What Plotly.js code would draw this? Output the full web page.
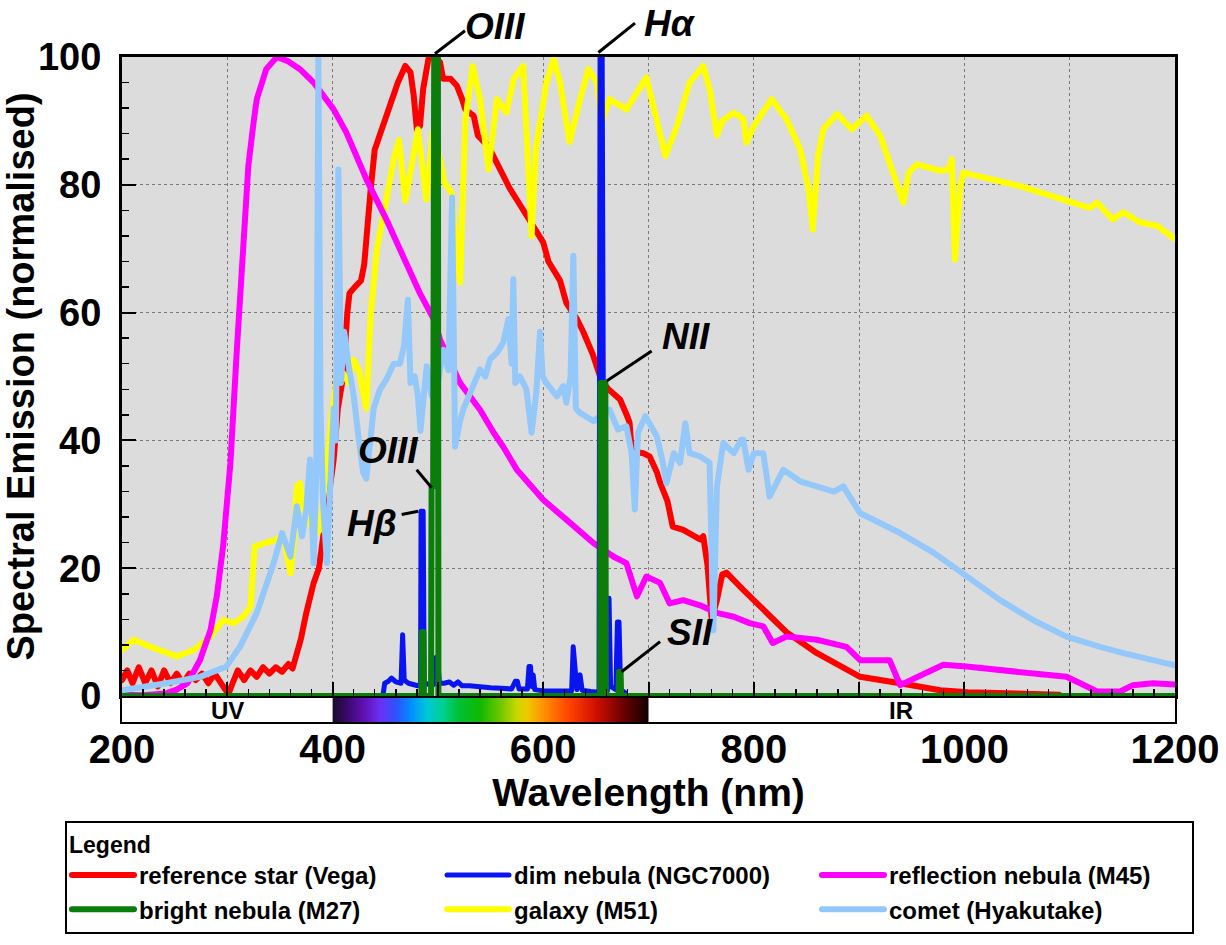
<!DOCTYPE html>
<html><head><meta charset="utf-8">
<script src="https://cdn.plot.ly/plotly-3.0.1.min.js"></script>
<style>
html,body{margin:0;padding:0;background:#fff}
#chart{width:1226px;height:945px}
path.js-line{stroke-linejoin:round;stroke-linecap:round}
</style>
</head><body><div id="chart"></div>
<script>
// ---------- data (wavelength nm, normalised emission) ----------
const vega = [[200,2.5],[205,4],[210,2],[216,4.5],[222,2],[228,4],[234,1.5],[240,4],[246,2],[252,3.5],[258,2],[264,3.5],[270,2.5],[276,3.5],[282,2],[288,3.5],[294,2],[298,1],[301,0.3],[305,2],[310,4],[316,2.5],[322,4],[328,3],[334,4.5],[340,3.5],[346,4.5],[352,3.8],[358,5],[362,4.3],[366,6.5],[370,9],[375,13],[382,17.7],[387,20],[392,26],[397,32],[401,37],[405,45],[410,50],[414,60],[416,63],[421,64],[427,65],[430,67.5],[433,74],[436,79],[440,85.5],[451,90.8],[462,96],[469,98.6],[474,97.6],[477,94],[480,88.7],[483,89.2],[486,95],[491,99.7],[496,100],[502,99.2],[505,96.6],[512,96.6],[518,95.5],[523,93.4],[526,91.8],[534,90.8],[538,87.7],[548,86],[556,83.5],[568,79.5],[585,75],[600,71],[605,68],[616,65],[622,61.5],[632,59],[638,57],[647,53.5],[654,50],[657,49],[662,48],[670,47],[673,46.4],[680,43.7],[682,42.8],[684,38.6],[688,38.2],[695,38],[701,37.5],[708,35],[711,33.4],[718,30.5],[720,29],[723,26.5],[733,26],[742,25],[749,24.5],[752,25],[756,20.5],[760,12],[765,15],[770,19],[774,19.3],[790,16.6],[812,13],[831,10],[860,6.7],[882,4.6],[901,3],[939,2],[977,0.9],[1003,0.6],[1050,0.4],[1090,0.2]];

const m27 = [[200,0],[484.3,0],[484.8,10],[486.2,10],[486.7,0],[493.5,0],[494,32.8],[495.5,32.8],[496.5,100],[500,100],[500.5,0],[654,0],[654.5,49],[659,49],[659.5,0],[671.5,0],[672,3.8],[673.5,3.8],[674,0],[1200,0]];

const ngc7000 = [[448,0.3],[449.5,2],[453,2.3],[456,2.8],[460,2.2],[465,2],[466.5,9.6],[468,2.5],[472,2],[477,1.7],[481,1.6],[483.5,1.8],[484,28.9],[486,28.9],[487,2],[492,1.8],[496,1.8],[497.5,6],[499.5,6],[501.5,2],[506,2],[511,2.2],[515,1.7],[519,2.2],[523,1.6],[530,1.6],[540,1.4],[550,1.3],[560,1.2],[570,1.1],[573.5,2.3],[575.5,2.3],[577,1.1],[585,1.1],[586.5,4.6],[588,4.6],[589,1.5],[590.5,3.3],[592,1],[600,0.8],[610,0.8],[620,0.7],[627,0.8],[628.5,7.7],[630,5],[632,1],[635,3.3],[637,0.9],[645,0.7],[653,0.6],[654,100],[656,100],[658,0.8],[661,0.8],[661.5,15.3],[662.5,15.3],[664,1.5],[669,1],[670.5,11.6],[672,11.6],[673.5,1],[678,0.5]];

const m51 = [[200,7.2],[211,8.8],[227,7.7],[240,6.8],[252,6.2],[268,7.2],[284,9.3],[296,11.9],[306,11.4],[315,12.4],[322,14],[326,23.4],[337,23.9],[347,24.5],[353,25],[357,22],[360,19.2],[363,23.9],[366,32.8],[369,33.3],[372,29.2],[380,26.5],[385,25.5],[388,26],[394,36],[400,45],[405,51],[410,50.5],[415,49],[420,52.6],[425,51],[432,45],[436,59.4],[442,69.9],[451,77.7],[458,84],[463,87],[469,77.5],[475,83],[481,88.7],[489,77.7],[495,88.2],[502,84],[506,80.4],[513,78.8],[521,64.7],[526,90],[533,98.6],[540,93.4],[548,82.4],[556,93.4],[565,91.3],[572,96.6],[581,98.6],[589,72],[593,85.6],[603,96],[610,99.7],[616,96],[625,86.7],[635,93.4],[643,98.1],[651,96],[655.5,89.8],[663,93.4],[679,91.8],[698,96.8],[716,84.5],[727,89.2],[739,96],[752,98.6],[758,95],[765,87.7],[770,90],[781,91.3],[790,90.3],[793,86.6],[800,89.2],[817,93.4],[831,90.3],[844,85.6],[852,79.3],[856,73],[861,84.5],[866,88.7],[879,91.1],[893,88.7],[907,90.8],[920,87.7],[932,81.9],[942,77.2],[947,81.9],[955,83.2],[977,82.2],[985,82.4],[988,84],[991,68.3],[996,79.8],[999,81.9],[1053,79.8],[1119,76.4],[1126,77.2],[1141,74.6],[1151,75.7],[1167,74.1],[1183,73.6],[1200,71.5]];

const m45 = [[200,0.2],[220,0.1],[242,0.4],[252,1],[262,2],[274,5.6],[284,10.3],[290,15.6],[296,23.4],[303,36.5],[309,54],[315,71.5],[320,83],[325,89.8],[328,93.4],[337,98.1],[347,100],[357,99.4],[369,98.1],[382,96],[401,91.8],[413,88.2],[432,80.9],[451,74.6],[470,67.8],[483,63],[496,59],[502,55.8],[521,49],[540,44.8],[553,41.2],[562,39],[575,35.4],[600,30.7],[622,27.6],[648,23.9],[667,21.8],[679,20.8],[689,15.6],[698,18.7],[711,17.7],[720,14.5],[733,15],[749,14.2],[765,13],[781,12.4],[796,11.4],[809,10.9],[818,8.3],[831,9.3],[860,8.8],[888,7.7],[901,5.6],[929,5.6],[939,1.7],[955,3],[980,4.9],[1002,4.6],[1097,3],[1110,2],[1126,0.7],[1148,0.7],[1160,1.7],[1179,2],[1200,1.8]];

const hyakutake = [[200,0.9],[220,1.4],[242,2],[274,3],[299,4.6],[312,7.7],[328,13],[344,20.8],[352,25.5],[360,21.8],[366,29.7],[371,25],[375,29.2],[378.5,37],[382,20.8],[384.5,35],[386.5,100],[388.5,45],[391,30],[394.6,20.8],[398,35],[401,45],[403,40],[405.5,82.4],[408,49],[411,57],[415,52],[420,47],[425,40],[429,35],[432,34],[436,40],[439,45],[445,48],[451,49.5],[458,52],[464,52],[468,55],[471.5,62],[474,49],[478,50],[481,47],[483.5,41.5],[486,46],[489.4,51.6],[494,47],[499,48],[505,54.2],[510,51],[513.5,78],[516.3,39],[521,43],[524,44.8],[532,48],[540,51.1],[545,50],[549.5,52.7],[556,53.7],[562,55.3],[567,59],[570,52],[571.6,65.2],[573.5,49],[578,50],[584,48],[589,41.2],[593.4,47.4],[597,57],[599.5,50],[603,49],[613,46.9],[619,48.5],[622,45.9],[626,50],[628.6,68.9],[631,45],[635,44.3],[648,43],[655,44],[663,44.8],[671,41.7],[679,42.2],[684,38],[687,29.2],[690,41.2],[697,43.8],[703,42],[708,40.6],[713,37],[717,33.3],[724,38],[730,36.5],[735,42.7],[739,38],[749,37.5],[758,36.5],[761.6,10.3],[765,32.8],[771,39.6],[781,38],[788,40.1],[790,40.1],[795,35.4],[800,38],[809,38],[815,31.2],[828,35.4],[844,33.6],[876,32],[885,32.8],[901,28.6],[939,25.5],[971,22.4],[999,19.2],[1034,15],[1065,11.9],[1097,9.3],[1129,7.7],[1151,6.7],[1200,4.8]];

const seriesNames  = ['reference star (Vega)','bright nebula (M27)','dim nebula (NGC7000)','galaxy (M51)','reflection nebula (M45)','comet (Hyakutake)'];
const seriesColors = ['#ff0000','#0a7d0a','#0a14f0','#ffff00','#ff00ff','#94c8fa'];

const spectrumNm     = [400,415,430,445,460,475,490,505,520,540,560,575,585,600,625,650,675,700];
const spectrumColors = ['#1c0828','#3c0a70','#6010b4','#6a30f4','#3050ff','#0090ff','#00c8d4','#00d090','#00c034','#10b800','#70c800','#c8d800','#f0c800','#ff9200','#ff4200','#d01000','#700000','#120000'];

const xTickVals = [200,400,600,800,1000,1200];
const bandLabels = ['UV','IR'];
const bandCentres = [300,940];

// ---------- layout geometry ----------
const FONT = '"Liberation Sans", Arial, Helvetica, sans-serif';
const paperH = 945 - 57 - 223;
const mainDom = [26/paperH, 1];
const stripDom = [0, 24/paperH];
function yPaper(v){ return mainDom[0] + (mainDom[1]-mainDom[0]) * v / 100; }

const drawOrder = [0,3,4,5,2,1];       // red, yellow, magenta, comet, blue, green
const legendRank = [1,4,2,5,3,6];       // row-major legend
const widths = [6,6,5,6,6,6];
const seriesData = [vega, m27, ngc7000, m51, m45, hyakutake];

const traces = [];
// spectrum strip
traces.push({
  type:'scatter', mode:'lines', xaxis:'x2', yaxis:'y2',
  x:[spectrumNm[0], spectrumNm[spectrumNm.length-1], spectrumNm[spectrumNm.length-1], spectrumNm[0], spectrumNm[0]],
  y:[0,0,1,1,0], fill:'toself', line:{width:0, color:'rgba(0,0,0,0)'},
  fillgradient:{type:'horizontal',
    colorscale: spectrumNm.map((nm,i)=>[(nm-spectrumNm[0])/(spectrumNm[spectrumNm.length-1]-spectrumNm[0]), spectrumColors[i]])},
  showlegend:false, hoverinfo:'skip'
});
drawOrder.forEach(i=>{
  const pts = seriesData[i];
  traces.push({
    type:'scatter', mode:'lines', xaxis:'x', yaxis:'y',
    name: seriesNames[i], legendrank: legendRank[i],
    x: pts.map(p=>p[0]), y: pts.map(p=>p[1]),
    line:{color: seriesColors[i], width: widths[i]},
    hoverinfo:'skip'
  });
});

const lbl = (t)=>'<b><i>'+t+'</i></b>';
const annFont = {family: FONT, size: 37, color:'#000'};
const annotations = [
  {xref:'x', yref:'paper', x:554, y:yPaper(104.8), xanchor:'center', yanchor:'middle', text:lbl('OIII'), showarrow:false, font:annFont},
  {xref:'x', yref:'paper', x:720, y:yPaper(105.2), xanchor:'center', yanchor:'middle', text:lbl('Hα'), showarrow:false, font:annFont},
  {xref:'x', yref:'y', x:735.5, y:56.3, text:lbl('NII'), showarrow:false, font:annFont},
  {xref:'x', yref:'y', x:453, y:38.4, text:lbl('OIII'), showarrow:false, font:annFont},
  {xref:'x', yref:'y', x:437, y:27, text:lbl('Hβ'), showarrow:false, font:annFont},
  {xref:'x', yref:'y', x:739, y:9.9, text:lbl('SII'), showarrow:false, font:annFont}
];
bandLabels.forEach((t,i)=>annotations.push({xref:'x2', yref:'y2', x:bandCentres[i], y:0.5, text:'<b>'+t+'</b>', showarrow:false, font:{family:FONT, size:24, color:'#000'}}));

const leader = (xa,va,xb,vb)=>({type:'line', xref:'x', yref:'paper', x0:xa, y0:yPaper(va), x1:xb, y1:yPaper(vb), line:{color:'#000', width:3}});
const shapes = [
  {type:'rect', xref:'x2', yref:'y2', x0:200, x1:1200, y0:0, y1:1, fillcolor:'#ffffff', line:{width:0}, layer:'below'},
  leader(497.2,100.5,525.7,104.1),
  leader(652.4,100.7,687.2,105.3),
  leader(660.3,49.3,703,54),
  leader(479.8,35.4,494.1,32.6),
  leader(465.6,28.4,481.4,28.9),
  leader(674.5,3.8,711,8.5)
];

const tickFont = {family: FONT, size: 40, color:'#000', weight:'bold'};
const layout = {
  width:1226, height:945,
  margin:{l:122, r:51, t:57, b:223, autoexpand:false},
  paper_bgcolor:'#ffffff', plot_bgcolor:'#dcdcdc',
  font:{family: FONT, color:'#000'},
  xaxis:{domain:[0,1], anchor:'y', range:[200,1200], dtick:100, tick0:200,
    showticklabels:false, ticks:'inside', ticklen:14, tickwidth:2, tickcolor:'#000',
    minor:{ticks:'inside', dtick:20, ticklen:7, tickwidth:1.5, tickcolor:'#000', showgrid:false},
    showgrid:true, gridcolor:'#7a7a7a', gridwidth:1, griddash:'dot',
    showline:true, linecolor:'#000', linewidth:3, mirror:true, zeroline:false, fixedrange:true},
  yaxis:{domain:mainDom, anchor:'x', range:[0,100], dtick:20, tick0:0,
    ticks:'inside', ticklen:14, tickwidth:2, tickcolor:'#000',
    minor:{ticks:'inside', dtick:4, ticklen:7, tickwidth:1.5, tickcolor:'#000', showgrid:false},
    showgrid:true, gridcolor:'#7a7a7a', gridwidth:1, griddash:'dot',
    showline:true, linecolor:'#000', linewidth:3, mirror:true, zeroline:false,
    tickfont:{family: FONT, size: 38, color:'#000', weight:'bold'}, ticklabelstandoff:10, fixedrange:true,
    title:{text:'Spectral Emission (normalised)', font:{family:FONT, size:38, color:'#000', weight:'bold'}, standoff:0}},
  xaxis2:{domain:[0,1], anchor:'y2', range:[200,1200], tickvals:xTickVals, ticks:'',
    showgrid:false, zeroline:false, showline:true, linecolor:'#000', linewidth:2, mirror:true,
    tickfont:tickFont, ticklabelstandoff:-9, fixedrange:true,
    title:{text:'Wavelength (nm)', font:{family:FONT, size:39, color:'#000', weight:'bold'}, standoff:0}},
  yaxis2:{domain:stripDom, anchor:'x2', range:[0,1], showticklabels:false, ticks:'',
    showgrid:false, zeroline:false, showline:true, linecolor:'#000', linewidth:2, mirror:true, fixedrange:true},
  showlegend:true,
  legend:{orientation:'h', x:(65-122)/1053, xanchor:'left', y:(722-821)/paperH, yanchor:'top',
    bgcolor:'#ffffff', bordercolor:'#000', borderwidth:2,
    font:{family:FONT, size:24, color:'#000', weight:'bold'},
    itemwidth:62, entrywidth:298, entrywidthmode:'pixels', traceorder:'normal',
    title:{text:'Legend', side:'top', font:{family:FONT, size:23, color:'#000', weight:'bold'}},
    itemclick:false, itemdoubleclick:false},
  annotations, shapes
};

Plotly.newPlot('chart', traces, layout, {staticPlot:true, displayModeBar:false});
</script>
</body></html>
